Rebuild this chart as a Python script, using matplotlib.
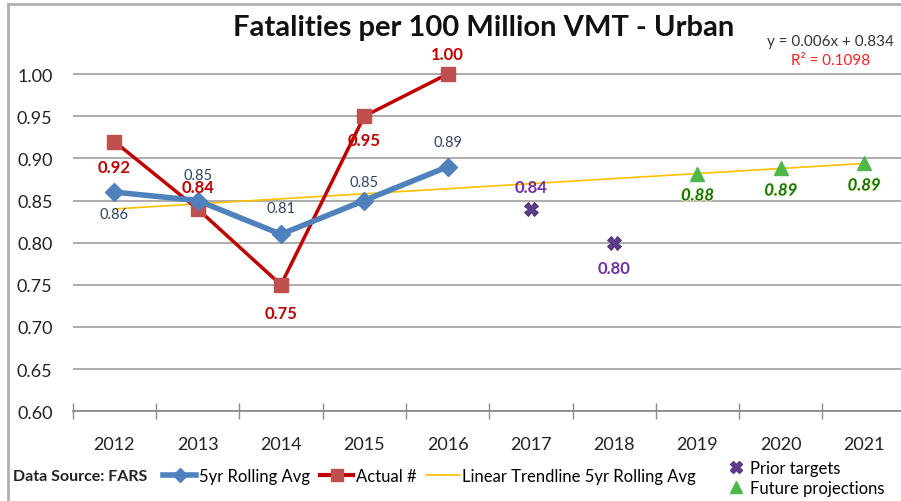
import numpy as np
import matplotlib
matplotlib.use("Agg")
import matplotlib.pyplot as plt
from matplotlib.lines import Line2D
import matplotlib.patheffects as pe

plt.rcParams['font.family'] = ['Lato', 'DejaVu Sans']

years = ['2012', '2013', '2014', '2015', '2016', '2017', '2018', '2019', '2020', '2021']
rolling_avg = [0.86, 0.85, 0.81, 0.85, 0.89]
actual = [0.92, 0.84, 0.75, 0.95, 1.00]
prior_years = ['2017', '2018']
prior_targets = [0.84, 0.80]
future_years = ['2019', '2020', '2021']
future_proj = [0.882, 0.888, 0.894]

# label offsets in pixels (up is positive)
avg_off = [-22, 26, 26, 19, 25]
act_off = [-25, 22, -28, -24, 20]
prior_off = [22, -25]
future_off = [-22, -22, -22]

BLUE = '#4f81bd'
RED = '#c00000'
SQ = '#c0504d'
GOLD = '#ffc000'
PURPLE = '#5f3b8c'
PURPLE_TXT = '#7030a0'
GREEN = '#4fb848'
GREEN_TXT = '#127512'

W, H = 901, 502
fig = plt.figure(figsize=(W / 100, H / 100), dpi=100)
ax = fig.add_axes([72.7 / W, 1 - 412.3 / H, (W - 72.7) / W, (412.3 - 32.9) / H])

xi = {y: i for i, y in enumerate(years)}
x_avg = np.arange(len(rolling_avg))
x_act = np.arange(len(actual))
x_prior = [xi[y] for y in prior_years]
x_fut = [xi[y] for y in future_years]

# trendline on the 5yr rolling average (x = 1..5)
slope, icpt = np.polyfit(np.arange(1, len(rolling_avg) + 1), rolling_avg, 1)
xt = np.arange(1, len(years) + 1)
ax.plot(xt - 1, slope * xt + icpt, color=GOLD, lw=1.2, zorder=2)

ax.plot(x_act, actual, color=RED, lw=2.5, marker='s', ms=10,
        mfc=SQ, mec=SQ, zorder=3)
ax.plot(x_avg, rolling_avg, color=BLUE, lw=4, marker='D', ms=9,
        mfc=BLUE, mec=BLUE, zorder=4)
ax.plot(x_prior, prior_targets, ls='none', marker='X', ms=10,
        color=PURPLE, mec='#3e2560', mew=0.6, zorder=5)
ax.plot(x_fut, future_proj, ls='none', marker='^', ms=10,
        color=GREEN, zorder=5)

for x, v, o in zip(x_avg, rolling_avg, avg_off):
    ax.annotate(f'{v:.2f}', (x, v), xytext=(0, o), textcoords='offset pixels',
                ha='center', va='center', fontsize=10.5, color='#2f4560', zorder=6)
for x, v, o in zip(x_act, actual, act_off):
    ax.annotate(f'{v:.2f}', (x, v), xytext=(0, o), textcoords='offset pixels',
                ha='center', va='center', fontsize=12, fontweight='bold',
                color=RED, zorder=6)
for x, v, o in zip(x_prior, prior_targets, prior_off):
    ax.annotate(f'{v:.2f}', (x, v), xytext=(0, o), textcoords='offset pixels',
                ha='center', va='center', fontsize=12, fontweight='bold',
                color=PURPLE_TXT, zorder=6)
for x, v, o in zip(x_fut, future_proj, future_off):
    ax.annotate(f'{v:.2f}', (x, v), xytext=(0, o), textcoords='offset pixels',
                ha='center', va='center', fontsize=12, fontweight='bold',
                fontstyle='italic', color=GREEN_TXT, zorder=6,
                path_effects=[pe.withStroke(linewidth=1.5, foreground='#f6f3c8')])

ax.set_xlim(-0.5, -0.5 + (W - 72.7) / 83.3)
ax.set_ylim(0.60, 1.05)
yt = np.arange(0.60, 1.001, 0.05)
ax.set_yticks(yt)
ax.set_yticklabels([f'{t:.2f}' for t in yt])
ax.set_xticks(range(len(years)))
ax.set_xticklabels(years)
ax.set_xticks(np.arange(-0.5, len(years) - 1, 1), minor=True)
ax.grid(axis='y', color='#a6a6a6', lw=1.3)
ax.set_axisbelow(True)
for s in ['top', 'right', 'left']:
    ax.spines[s].set_visible(False)
ax.spines['bottom'].set_color('#8c8c8c')
ax.spines['bottom'].set_linewidth(1.3)
ax.tick_params(axis='y', length=0, pad=14.5, labelsize=13, labelcolor='#222222')
ax.tick_params(axis='x', which='major', length=0, pad=18, labelsize=13, labelcolor='#222222')
ax.tick_params(axis='x', which='minor', length=12, direction='inout', color='#8c8c8c', width=1)

fig.text(484 / W, 1 - 28 / H, 'Fatalities per 100 Million VMT - Urban',
         ha='center', va='center', fontsize=21, fontweight='bold', color='#111111')
fig.text(830 / W, 1 - 42 / H, f'y = {slope:.3f}x + {icpt:.3f}',
         ha='center', va='center', fontsize=11, color='#333333')
fig.text(831 / W, 1 - 61 / H, 'R² = 0.1098',
         ha='center', va='center', fontsize=11, color='#ff2020')

# frame
fig.add_artist(plt.Line2D([8 / W, 8 / W], [0, 1 - 5 / H], transform=fig.transFigure,
                          color='#b0b0b0', lw=2))
fig.add_artist(plt.Line2D([8 / W, 1], [1 - 5 / H, 1 - 5 / H], transform=fig.transFigure,
                          color='#b0b0b0', lw=2))

fig.text(13 / W, 1 - 477 / H, 'Data Source: FARS', ha='left', va='center',
         fontsize=11.5, fontweight='bold', color='#222222')

h1 = [Line2D([], [], color=BLUE, lw=4, marker='D', ms=7),
      Line2D([], [], color=RED, lw=3, marker='s', ms=8, mfc=SQ, mec=SQ),
      Line2D([], [], color=GOLD, lw=1.2)]
fig.legend(h1, ['5yr Rolling Avg', 'Actual #', 'Linear Trendline 5yr Rolling Avg'],
           loc='center left', bbox_to_anchor=(163 / W, 1 - 477 / H), ncol=3,
           frameon=False, fontsize=12, handlelength=2.0, handletextpad=0.15,
           columnspacing=0.6, borderpad=0, borderaxespad=0)
h2 = [Line2D([], [], ls='none', marker='X', ms=9, color=PURPLE),
      Line2D([], [], ls='none', marker='^', ms=9, color=GREEN)]
fig.legend(h2, ['Prior targets', 'Future projections'], loc='center left',
           bbox_to_anchor=(728 / W, 1 - 479 / H), frameon=False, fontsize=12,
           handlelength=1.0, handletextpad=0.3, labelspacing=0.25, borderpad=0,
           borderaxespad=0)

fig.savefig('out.png', dpi=100)
